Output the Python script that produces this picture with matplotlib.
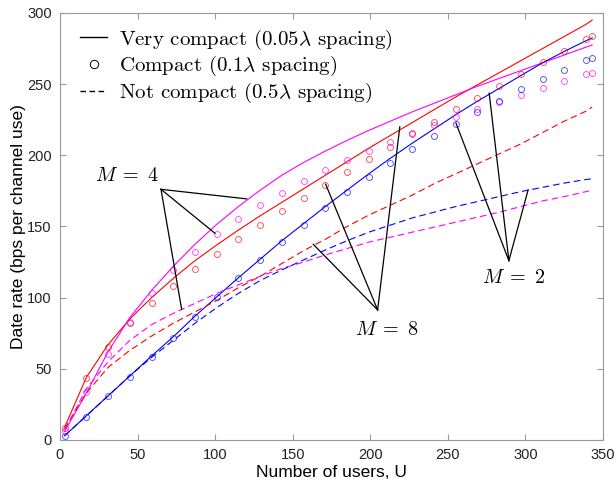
import matplotlib
matplotlib.use('Agg')
import matplotlib.pyplot as plt
from matplotlib.lines import Line2D

plt.rcParams['mathtext.fontset'] = 'cm'
plt.rcParams['font.family'] = ['Liberation Sans', 'DejaVu Sans']

# number of users
users = [3, 17, 31, 45, 59, 73, 87, 101, 115, 129, 143, 157, 171, 185, 199,
         213, 227, 241, 255, 269, 283, 297, 311, 325, 339, 343]

# very compact (solid lines)
red_solid = [9, 44, 67, 85, 100, 113.5, 126, 137, 147.5, 157.5, 167, 176.5, 186,
             195.5, 205, 214, 223, 232, 241, 249.5, 258, 266.5, 275, 283.5, 292, 295]
mag_solid = [6, 33, 62, 86, 105, 122, 137.5, 151.5, 164, 175.5, 186, 195, 203,
             210.5, 217.5, 224, 230.5, 236.5, 242.5, 248.5, 254, 259.5, 265, 270.5,
             276, 277.5]
blue_solid = [3, 17, 31, 45, 59, 72.5, 87, 100.5, 114, 127, 140, 152, 164, 175.5,
              187, 198, 208.5, 218.5, 228.5, 238, 247, 256, 265, 273, 280.5, 282.5]

# compact (circles)
red_circ = [8.4, 43.8, 65.6, 82.5, 96, 108, 120, 130.7, 141, 151, 161, 170, 179,
            188.6, 197.5, 206, 215.5, 223.7, 232.3, 240.6, 248.8, 257, 265.3,
            273.3, 281.6, 284]
mag_circ = [6, 34, 60.4, 83, 103, 119.5, 132, 144.7, 155, 165, 173.8, 182, 189.7,
            196.5, 203.3, 209.6, 215, 221.3, 227, 232.3, 237.7, 242.4, 247.6,
            252.3, 257, 258]
blue_circ = [2.8, 16.4, 31, 44.5, 58.5, 72, 86.7, 100.3, 113.6, 126.5, 139.4, 151,
             163.2, 174, 184.6, 194.9, 204.5, 213.6, 222.3, 230.7, 238.5, 246.4,
             253.4, 260, 266.8, 268.4]

# not compact (dashed lines)
red_dash = [8, 33, 51, 63, 73, 82, 90, 98, 107, 115, 124, 133, 141, 150, 158, 165,
            172, 180, 187, 194, 201, 208, 216, 224, 231, 234]
mag_dash = [7, 36, 55, 70, 81, 89, 96, 103, 109, 115, 120.5, 125, 130, 134.5, 139,
            142.5, 146, 149.5, 153, 156.5, 160, 164, 168, 171, 174.5, 175.5]
blue_dash = [3, 17, 31, 45, 58, 70, 82, 93, 103, 112, 119.5, 126.5, 133.5, 140,
             146, 151, 156, 160, 164, 167.5, 171, 174.5, 177.5, 180.5, 183, 183.5]

fig = plt.figure(figsize=(6.16, 4.88), dpi=100)
ax = fig.add_axes([0.0974, 0.0984, 0.8816, 0.875])

lw = 0.8
for ys, c in [(red_solid, 'red'), (mag_solid, 'magenta'), (blue_solid, 'blue')]:
    ax.plot(users, ys, '-', color=c, lw=lw)
for ys, c in [(red_dash, 'red'), (mag_dash, 'magenta'), (blue_dash, 'blue')]:
    ax.plot(users, ys, '--', color=c, lw=lw, dashes=(6, 3.5))
for ys, c in [(red_circ, 'red'), (mag_circ, 'magenta'), (blue_circ, 'blue')]:
    ax.plot(users, ys, 'o', mfc='none', mec=c, ms=4.3, mew=0.7, alpha=0.65)

# annotations: label -> apex -> targets
notes = [
    (r'$M\;=\;4$', (43.2, 186), (65.1, 176.1), [(120.3, 169.4), (99.9, 145.2), (78.4, 91.8)]),
    (r'$M\;=\;8$', (210.3, 77.9), (204.7, 91.4), [(163.2, 137.5), (171.2, 179.7), (219, 220)]),
    (r'$M\;=\;2$', (292, 114.2), (289.3, 126), [(255.2, 222.6), (276.6, 243.6), (301.7, 175.7)]),
]
for txt, tpos, apex, targets in notes:
    for t in targets:
        ax.plot([apex[0], t[0]], [apex[1], t[1]], color='black', lw=0.9)
    ax.text(tpos[0], tpos[1], txt, fontsize=14.5, ha='center', va='center')

ax.set_xlim(0, 350)
ax.set_ylim(0, 300)
ax.set_xticks(range(0, 351, 50))
ax.set_yticks(range(0, 301, 50))
ax.tick_params(direction='in', top=True, right=True, length=4, width=0.8,
               color='#999999', labelsize=10.5, labelcolor='#222222', pad=6)
for s in ax.spines.values():
    s.set_color('#999999')
    s.set_linewidth(0.8)

ax.set_xlabel('Number of users, U', fontsize=12.5, labelpad=2)
ax.set_ylabel('Date rate (bps per channel use)', fontsize=12.5, labelpad=1)

handles = [
    Line2D([], [], color='black', lw=1),
    Line2D([], [], color='black', lw=0, marker='o', mfc='none', ms=6, mew=0.7),
    Line2D([], [], color='black', lw=1, ls='--', dashes=(4, 2.5)),
]
labels = [r'Very compact (0.05$\lambda$ spacing)',
          r'Compact (0.1$\lambda$ spacing)',
          r'Not compact (0.5$\lambda$ spacing)']
ax.legend(handles, labels, loc='upper left', frameon=False,
          prop={'family': 'cmr10', 'size': 15}, handlelength=1.3,
          handletextpad=0.55, labelspacing=0.12, borderaxespad=0.0,
          bbox_to_anchor=(0.022, 0.985))

fig.savefig('out.png', dpi=100)
